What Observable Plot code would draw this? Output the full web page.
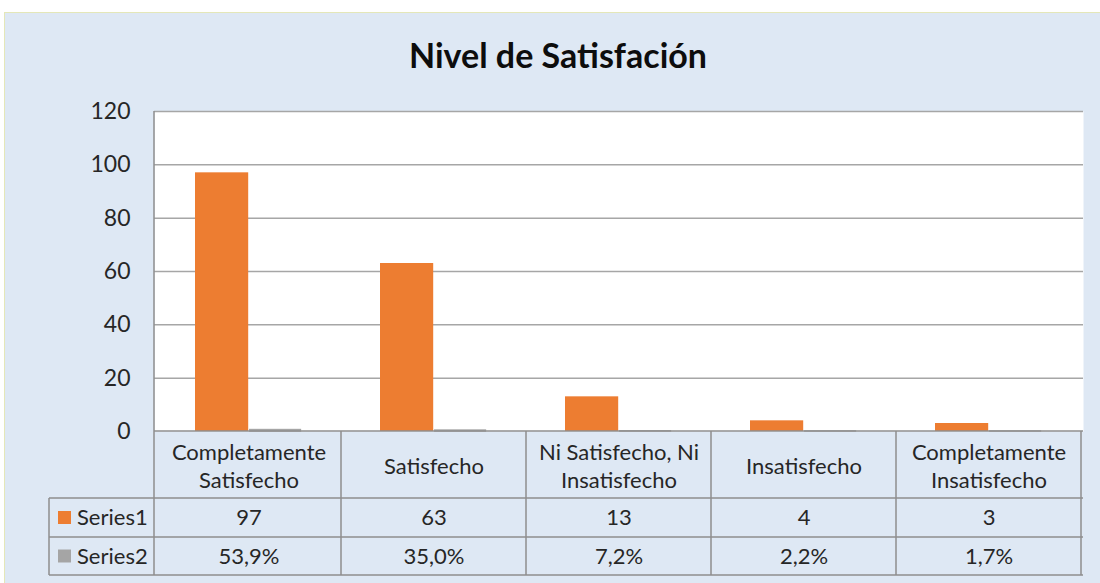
<!DOCTYPE html>
<html>
<head>
<meta charset="utf-8">
<script src="https://cdn.jsdelivr.net/npm/d3@7"></script>
<script src="https://cdn.jsdelivr.net/npm/@observablehq/plot@0.6"></script>
<style>
  html, body { margin: 0; padding: 0; background: #ffffff; width: 1100px; height: 583px; overflow: hidden; }
  #panel { position: absolute; left: 4px; top: 12px; width: 1096px; height: 571px; background: #DEE8F4; border-top: 1px solid #E4E7B8; border-left: 1px solid #E4E7B8; box-sizing: border-box; }
  #chart { position: absolute; left: 0; top: 0; }
  #title { position: absolute; left: 0; top: 35px; width: 1116px; text-align: center; font-family: Lato, "Open Sans", sans-serif; font-weight: bold; font-size: 34px; line-height: 40px; color: #0d0d0d; }
</style>
</head>
<body>
<div id="panel"></div>
<div id="chart"></div>
<div id="title">Nivel de Satisfación</div>
<script>
const categories = ["Completamente Satisfecho", "Satisfecho", "Ni Satisfecho, Ni Insatisfecho", "Insatisfecho", "Completamente Insatisfecho"];
const categoryLabels = ["Completamente\nSatisfecho", "Satisfecho", "Ni Satisfecho, Ni\nInsatisfecho", "Insatisfecho", "Completamente\nInsatisfecho"];
const seriesNames = ["Series1", "Series2"];
const series1 = [97, 63, 13, 4, 3];
const series2 = [0.539, 0.350, 0.072, 0.022, 0.017];
const series1Labels = ["97", "63", "13", "4", "3"];
const series2Labels = ["53,9%", "35,0%", "7,2%", "2,2%", "1,7%"];
const yTicks = [0, 20, 40, 60, 80, 100, 120];
const colors = ["#ED7D31", "#A5A5A5"];

const rows1 = categories.map((c, i) => ({cat: c, label: categoryLabels[i], v: series1[i], t: series1Labels[i]}));
const rows2 = categories.map((c, i) => ({cat: c, v: series2[i], t: series2Labels[i]}));

const lineColor = "#8E8E8E";
const textColor = "#262626";
const fontSize = 22;

// Data table grid and legend keys (drawn from the plot's x scale and dimensions)
const tableGrid = (index, scales, values, dims) => {
  const x = scales.x;
  const bw = x.bandwidth();
  const left = dims.marginLeft;
  const right = dims.width - dims.marginRight;
  const top = dims.marginTop;
  const base = dims.height - dims.marginBottom;
  const r1 = base + 67, r2 = base + 106, r3 = base + 144;
  const legendLeft = 49;
  const g = d3.create("svg:g").attr("stroke", lineColor).attr("stroke-width", 1.5).attr("fill", "none");
  const line = (x1, y1, x2, y2) => g.append("line").attr("x1", x1).attr("y1", y1).attr("x2", x2).attr("y2", y2);
  line(left, base, right, base);
  line(legendLeft, r1, right, r1);
  line(legendLeft, r2, right, r2);
  line(legendLeft, r3, right, r3);
  line(left, top, left, r3);
  line(legendLeft, r1, legendLeft, r3);
  categories.forEach(c => line(x(c) + bw, base, x(c) + bw, r3));
  const rowCenters = [(r1 + r2) / 2, (r2 + r3) / 2];
  seriesNames.forEach((s, i) => {
    g.append("rect").attr("x", 58).attr("y", rowCenters[i] - 6.5).attr("width", 13).attr("height", 13)
      .attr("fill", colors[i]).attr("stroke", "none");
    g.append("text").attr("x", 77).attr("y", rowCenters[i]).attr("dy", "0.36em")
      .attr("text-anchor", "start").attr("fill", textColor).attr("stroke", "none")
      .attr("font-size", fontSize).text(s);
  });
  return g.node();
};

const chart = Plot.plot({
  width: 1100,
  height: 583,
  marginTop: 111,
  marginBottom: 152,
  marginLeft: 154,
  marginRight: 17,
  style: {background: "transparent", fontFamily: "Lato, 'Open Sans', sans-serif", fontSize: "23px", color: textColor},
  x: {domain: categories, padding: 0, axis: null},
  y: {domain: [0, 120], ticks: yTicks, tickSize: 0, tickPadding: 24, label: null, tickFormat: d => String(d)},
  marks: [
    Plot.frame({fill: "white", stroke: "none"}),
    Plot.ruleY(yTicks.filter(d => d > 0), {stroke: "#A6A6A6", strokeWidth: 1.5}),
    Plot.barY(rows1, {x: "cat", y: "v", fill: colors[0], insetLeft: 39, insetRight: 92.8}),
    Plot.barY(rows2, {x: "cat", y: "v", fill: colors[1], stroke: colors[1], strokeWidth: 1.5, insetLeft: 93.8, insetRight: 40.6}),
    tableGrid,
    Plot.text(rows1, {x: "cat", text: "label", frameAnchor: "bottom", dy: 33.5, lineAnchor: "middle", lineHeight: 1.3, fill: textColor, fontSize: fontSize}),
    Plot.text(rows1, {x: "cat", text: "t", frameAnchor: "bottom", dy: 86.5, lineAnchor: "middle", fill: textColor, fontSize: fontSize}),
    Plot.text(rows2, {x: "cat", text: "t", frameAnchor: "bottom", dy: 125, lineAnchor: "middle", fill: textColor, fontSize: fontSize})
  ]
});
document.getElementById("chart").appendChild(chart);
</script>
</body>
</html>
